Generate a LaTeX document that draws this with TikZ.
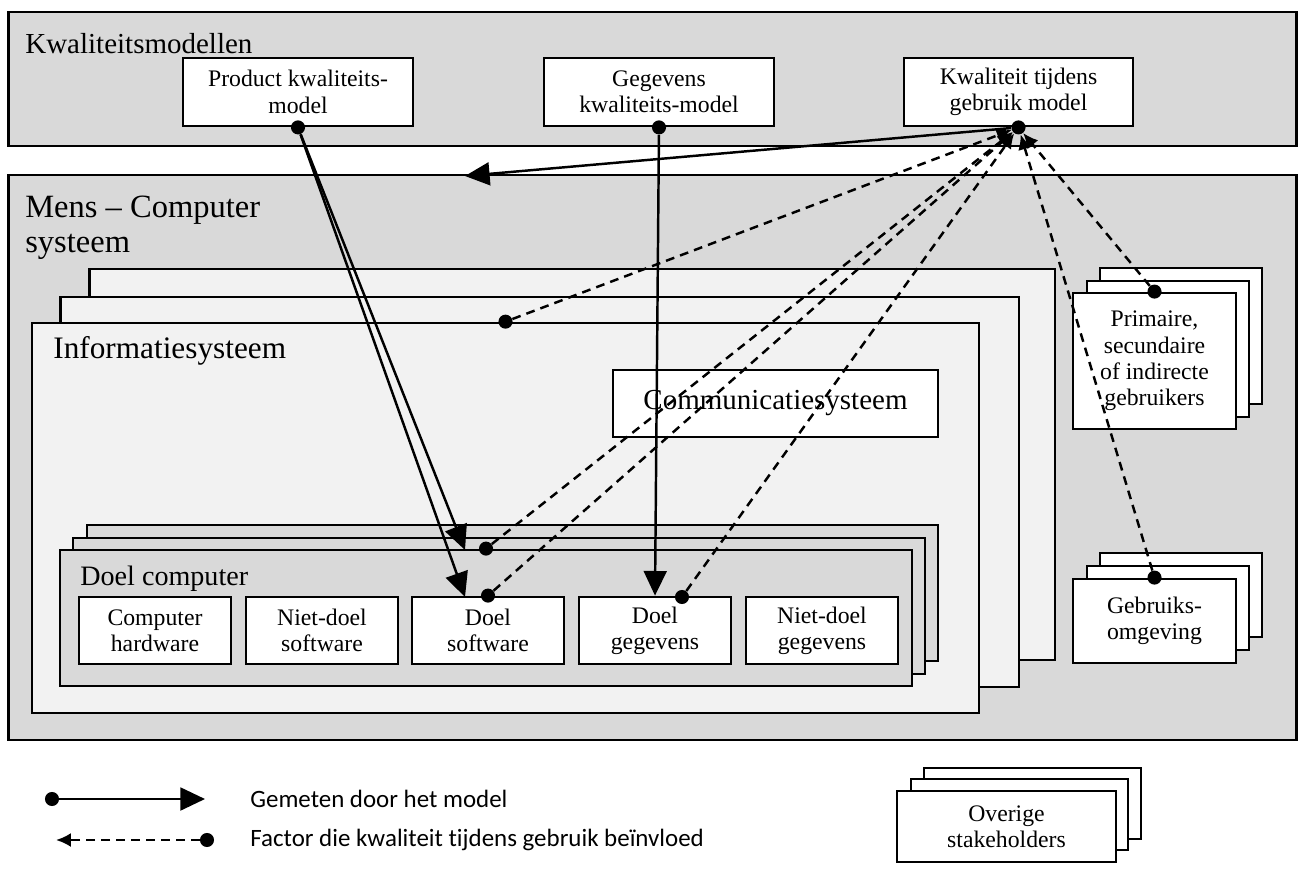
\documentclass[tikz,border=0pt]{standalone}
\usepackage{fontspec}
\setmainfont{Liberation Serif}
\newfontfamily\legendfont[Ligatures=NoCommon]{Carlito}
\usetikzlibrary{arrows.meta}
\definecolor{boxgray}{HTML}{D9D9D9}
\definecolor{boxlight}{HTML}{F2F2F2}

\begin{document}
\begin{tikzpicture}[x=0.02cm,y=-0.02cm,
    frame/.style={draw,line width=1.6pt,rectangle,inner sep=0pt},
    grayframe/.style={frame,fill=boxgray},
    lightframe/.style={frame,fill=boxlight},
    whitebox/.style={frame,fill=white,align=center,font=\fontsize{13.5}{15}\selectfont},
    title/.style={anchor=base west,inner sep=0pt,font=\fontsize{16.5}{20}\selectfont},
    legend/.style={anchor=west,inner sep=0pt,font=\legendfont\fontsize{14.2}{17}\selectfont},
    blob/.style={circle,fill,inner sep=0pt,minimum size=8pt},
    measured/.style={line width=1.4pt,-{Triangle[length=14pt,width=13pt]}},
    factor/.style={line width=1.4pt,dash pattern=on 5pt off 3.5pt,-{Latex[length=8.5pt,width=8pt]}}]
            \useasboundingbox (0,0) rectangle (1302,869);
            % kwaliteitsmodellen
            \node (km) at (652.5,79) [grayframe,minimum width=25.78cm,minimum height=2.68cm] {};
            \node (km title) at (25,53) [title] {Kwaliteitsmodellen};
            \node (pkm) at (298,92) [whitebox,minimum width=4.6cm,minimum height=1.36cm] {Product kwaliteits-\\model};
            \node (ggm) at (659,92) [whitebox,minimum width=4.6cm,minimum height=1.36cm] {Gegevens\\kwaliteits-model};
            \node (kgm) at (1018.5,92) [whitebox,minimum width=4.58cm,minimum height=1.36cm] {Kwaliteit tijdens\\gebruik model};
            % mens - computer systeem
            \node (mcs) at (652.5,457.5) [grayframe,minimum width=25.78cm,minimum height=11.3cm] {};
            \node (mcs title) at (25,217) [title,font=\fontsize{18.5}{22}\selectfont] {Mens -- Computer};
            \node (mcs title2) at (25,252) [title,font=\fontsize{18.5}{22}\selectfont] {systeem};
            \node (is back) at (572,464.5) [lightframe,minimum width=19.32cm,minimum height=7.82cm] {};
            \node (is mid) at (539.5,492) [lightframe,minimum width=19.18cm,minimum height=7.8cm] {};
            \node (is) at (505.5,518) [lightframe,minimum width=18.94cm,minimum height=7.8cm] {};
            \node (is title) at (53,358) [title,font=\fontsize{17.8}{21}\selectfont] {Informatiesysteem};
            \node (cs) at (775.5,403.5) [whitebox,minimum width=6.5cm,minimum height=1.34cm,font=\fontsize{16.5}{20}\selectfont] {Communicatiesysteem};
            \node (dc back) at (512.5,593) [grayframe,minimum width=17.02cm,minimum height=2.72cm] {};
            \node (dc mid) at (499,606) [grayframe,minimum width=17.04cm,minimum height=2.72cm] {};
            \node (dc) at (486,618) [grayframe,minimum width=17.04cm,minimum height=2.72cm] {};
            \node (dc title) at (80,585) [title,font=\fontsize{16}{19}\selectfont] {Doel computer};
            \node (chw) at (155,630.5) [whitebox,minimum width=3.04cm,minimum height=1.34cm] {Computer\\hardware};
            \node (nsw) at (322,630.5) [whitebox,minimum width=3.04cm,minimum height=1.34cm] {Niet-doel\\software};
            \node (dsw) at (488,630.5) [whitebox,minimum width=3.04cm,minimum height=1.34cm] {Doel\\software};
            \node (dgg) at (655,630.5) [whitebox,minimum width=3.04cm,minimum height=1.34cm] {Doel\\gegevens};
            \node (ngg) at (822,630.5) [whitebox,minimum width=3.04cm,minimum height=1.34cm] {Niet-doel\\gegevens};
            % gebruikers en omgeving
            \node (pg back) at (1181,336) [frame,fill=white,minimum width=3.24cm,minimum height=2.72cm] {};
            \node (pg mid) at (1168,349) [frame,fill=white,minimum width=3.24cm,minimum height=2.72cm] {};
            \node (pg) at (1154.5,361) [whitebox,minimum width=3.26cm,minimum height=2.72cm] {Primaire,\\secundaire\\of indirecte\\gebruikers};
            \node (go back) at (1181,595) [frame,fill=white,minimum width=3.24cm,minimum height=1.68cm] {};
            \node (go mid) at (1168,608) [frame,fill=white,minimum width=3.24cm,minimum height=1.68cm] {};
            \node (go) at (1154.5,621) [whitebox,minimum width=3.26cm,minimum height=1.68cm] {Gebruiks-\\omgeving};
            \node (os back) at (1032.5,803.5) [frame,fill=white,minimum width=4.34cm,minimum height=1.42cm] {};
            \node (os mid) at (1019.5,814.5) [frame,fill=white,minimum width=4.34cm,minimum height=1.42cm] {};
            \node (os) at (1006.5,826.5) [whitebox,minimum width=4.38cm,minimum height=1.42cm] {Overige\\stakeholders};
            % dots
            \node (pkm dot) at (pkm.south) [blob] {};
            \node (ggm dot) at (ggm.south) [blob] {};
            \node (kgm dot) at (kgm.south) [blob] {};
            \node (is dot) at (is.north) [blob] {};
            \node (dc dot) at (dc.north) [blob] {};
            \node (dsw dot) at (dsw.north) [blob] {};
            \node (dgg dot) at (682,597) [blob] {};
            \node (pg dot) at (pg.north) [blob] {};
            \node (go dot) at (go.north) [blob] {};
            \coordinate (mcs hit) at (465,176);
            \coordinate (dc hit) at (465,550);
            \coordinate (dsw hit) at (465,597);
            % gemeten door het model
            \draw[measured] (kgm dot) -- (mcs hit);
            \draw[measured] (pkm dot) -- (dc hit);
            \draw[measured] (pkm dot) -- (dsw hit);
            \draw[measured] (ggm dot) -- (dgg.north);
            % factoren
            \draw[factor] (is dot) -- (kgm dot);
            \draw[factor] (dc dot) -- (kgm dot);
            \draw[factor] (dsw dot) -- (kgm dot);
            \draw[factor] (dgg dot) -- (kgm dot);
            \draw[factor] (pg dot) -- (kgm dot);
            \draw[factor] (go dot) -- (kgm dot);
            % legenda
            \node (lg1 dot) at (52,799) [blob] {};
            \coordinate (lg1 tip) at (205,799);
            \draw[measured] (lg1 dot) -- (lg1 tip);
            \node (lg1 text) at (250,799) [legend] {Gemeten door het model};
            \node (lg2 dot) at (207,840) [blob] {};
            \coordinate (lg2 tip) at (56,840);
            \draw[factor] (lg2 dot) -- (lg2 tip);
            \node (lg2 text) at (250,840) [legend] {Factor die kwaliteit tijdens gebruik beïnvloed};
        \end{tikzpicture}
\end{document}
